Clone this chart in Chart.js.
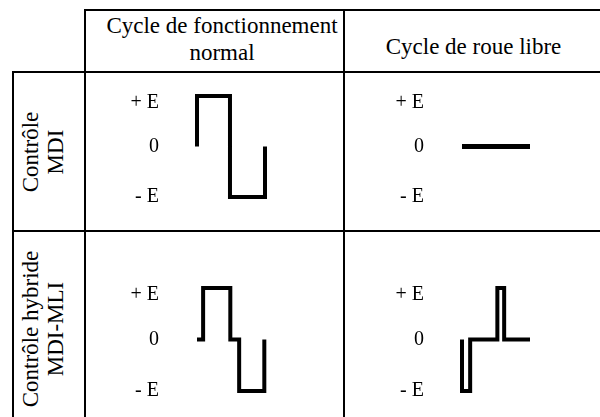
<!DOCTYPE html>
<html>
<head>
<meta charset="utf-8">
<script src="https://cdn.jsdelivr.net/npm/chart.js@4/dist/chart.umd.min.js"></script>
<style>
  html, body { margin: 0; padding: 0; background: #fff; }
  #page { position: relative; width: 600px; height: 417px; overflow: hidden; font-family: "Liberation Serif", "Times New Roman", serif; color: #000; }
  .rule { position: absolute; background: #000; }
  .head { position: absolute; font-size: 23px; line-height: 27px; text-align: center; white-space: nowrap; }
  .side { position: absolute; font-size: 23px; line-height: 25px; text-align: center; white-space: nowrap; transform: translate(-50%, -50%) rotate(-90deg); }
  canvas { position: absolute; }
</style>
</head>
<body>
<div id="page">
  <div class="rule" style="left:84px;top:9px;width:516px;height:2px"></div>
  <div class="rule" style="left:12px;top:71px;width:588px;height:2px"></div>
  <div class="rule" style="left:12px;top:230px;width:588px;height:2px"></div>
  <div class="rule" style="left:12px;top:71px;width:2px;height:346px"></div>
  <div class="rule" style="left:84px;top:9px;width:2px;height:408px"></div>
  <div class="rule" style="left:343px;top:9px;width:2px;height:408px"></div>

  <div class="head" id="h0" style="left:100px;top:12px;width:244px"></div>
  <div class="head" id="h1" style="left:347px;top:33px;width:253px"></div>
  <div class="side" id="r0" style="left:43px;top:152px"></div>
  <div class="side" id="r1" style="left:43px;top:329px"></div>

  <canvas id="c00" width="160" height="141" style="left:117px;top:76px"></canvas>
  <canvas id="c01" width="160" height="141" style="left:382px;top:76px"></canvas>
  <canvas id="c10" width="160" height="143" style="left:117px;top:268px"></canvas>
  <canvas id="c11" width="160" height="143" style="left:382px;top:268px"></canvas>
</div>
<script>
// column / row headers
const colTitles = [['Cycle de fonctionnement', 'normal'], ['Cycle de roue libre']];
const rowTitles = [['Contrôle', 'MDI'], ['Contrôle hybride', 'MDI-MLI']];

// voltage levels shown on each small plot
const levelValues = [1, 0, -1];
const levelLabels = ['+ E', '0', '- E'];

// waveforms: time as fraction of the cycle, value in units of E
const tMdiNormal = [0, 0, 0.485, 0.485, 1, 1];
const vMdiNormal = [0, 1, 1, -1, -1, 0];

const tMdiFree = [0, 1];
const vMdiFree = [0, 0];

const tHybNormal = [0, 0.09, 0.09, 0.49, 0.49, 0.62, 0.62, 0.99, 0.99];
const vHybNormal = [0, 0, 1, 1, 0, 0, -1, -1, 0];

const tHybFree = [0, 0, 0.12, 0.12, 0.52, 0.52, 0.62, 0.62, 1];
const vHybFree = [0, -1, -1, 0, 0, 1, 1, 0, 0];

document.getElementById('h0').innerHTML = colTitles[0].join('<br>');
document.getElementById('h1').innerHTML = colTitles[1].join('<br>');
document.getElementById('r0').innerHTML = rowTitles[0].join('<br>');
document.getElementById('r1').innerHTML = rowTitles[1].join('<br>');

function tickText(v){
  const i = levelValues.indexOf(v);
  if(i < 0) return '';
  // +E label sits a little below its level in the original drawing
  return v === 1 ? ['', levelLabels[i]] : levelLabels[i];
}

function makeWave(id, times, values, width){
  const ctx = document.getElementById(id);
  return new Chart(ctx, {
    type: 'line',
    data: { datasets: [{
      data: times.map((t, i) => ({x: t, y: values[i]})),
      borderColor: '#000', borderWidth: width, pointRadius: 0,
      tension: 0, clip: false, borderJoinStyle: 'miter', borderCapStyle: 'butt'
    }]},
    options: {
      responsive: false, animation: false,
      layout: { padding: { top: 20, bottom: 20, left: 0, right: 12 } },
      plugins: { legend: { display: false }, tooltip: { enabled: false } },
      scales: {
        x: { type: 'linear', min: 0, max: 1, display: false },
        y: {
          min: -1, max: 1,
          grid: { display: false, drawTicks: false },
          border: { display: false },
          ticks: {
            stepSize: 1, padding: 38, color: '#000',
            font: { family: '"Liberation Serif", "Times New Roman", serif', size: 20, lineHeight: 0.7 },
            callback: v => tickText(v)
          },
          // fixed axis width; tick padding should not eat vertical space
          afterFit: s => { s.width = 80; s.paddingTop = 0; s.paddingBottom = 0; }
        }
      }
    }
  });
}

makeWave('c00', tMdiNormal, vMdiNormal, 4);
makeWave('c01', tMdiFree, vMdiFree, 5);
makeWave('c10', tHybNormal, vHybNormal, 4);
makeWave('c11', tHybFree, vHybFree, 4);
</script>
</body>
</html>
